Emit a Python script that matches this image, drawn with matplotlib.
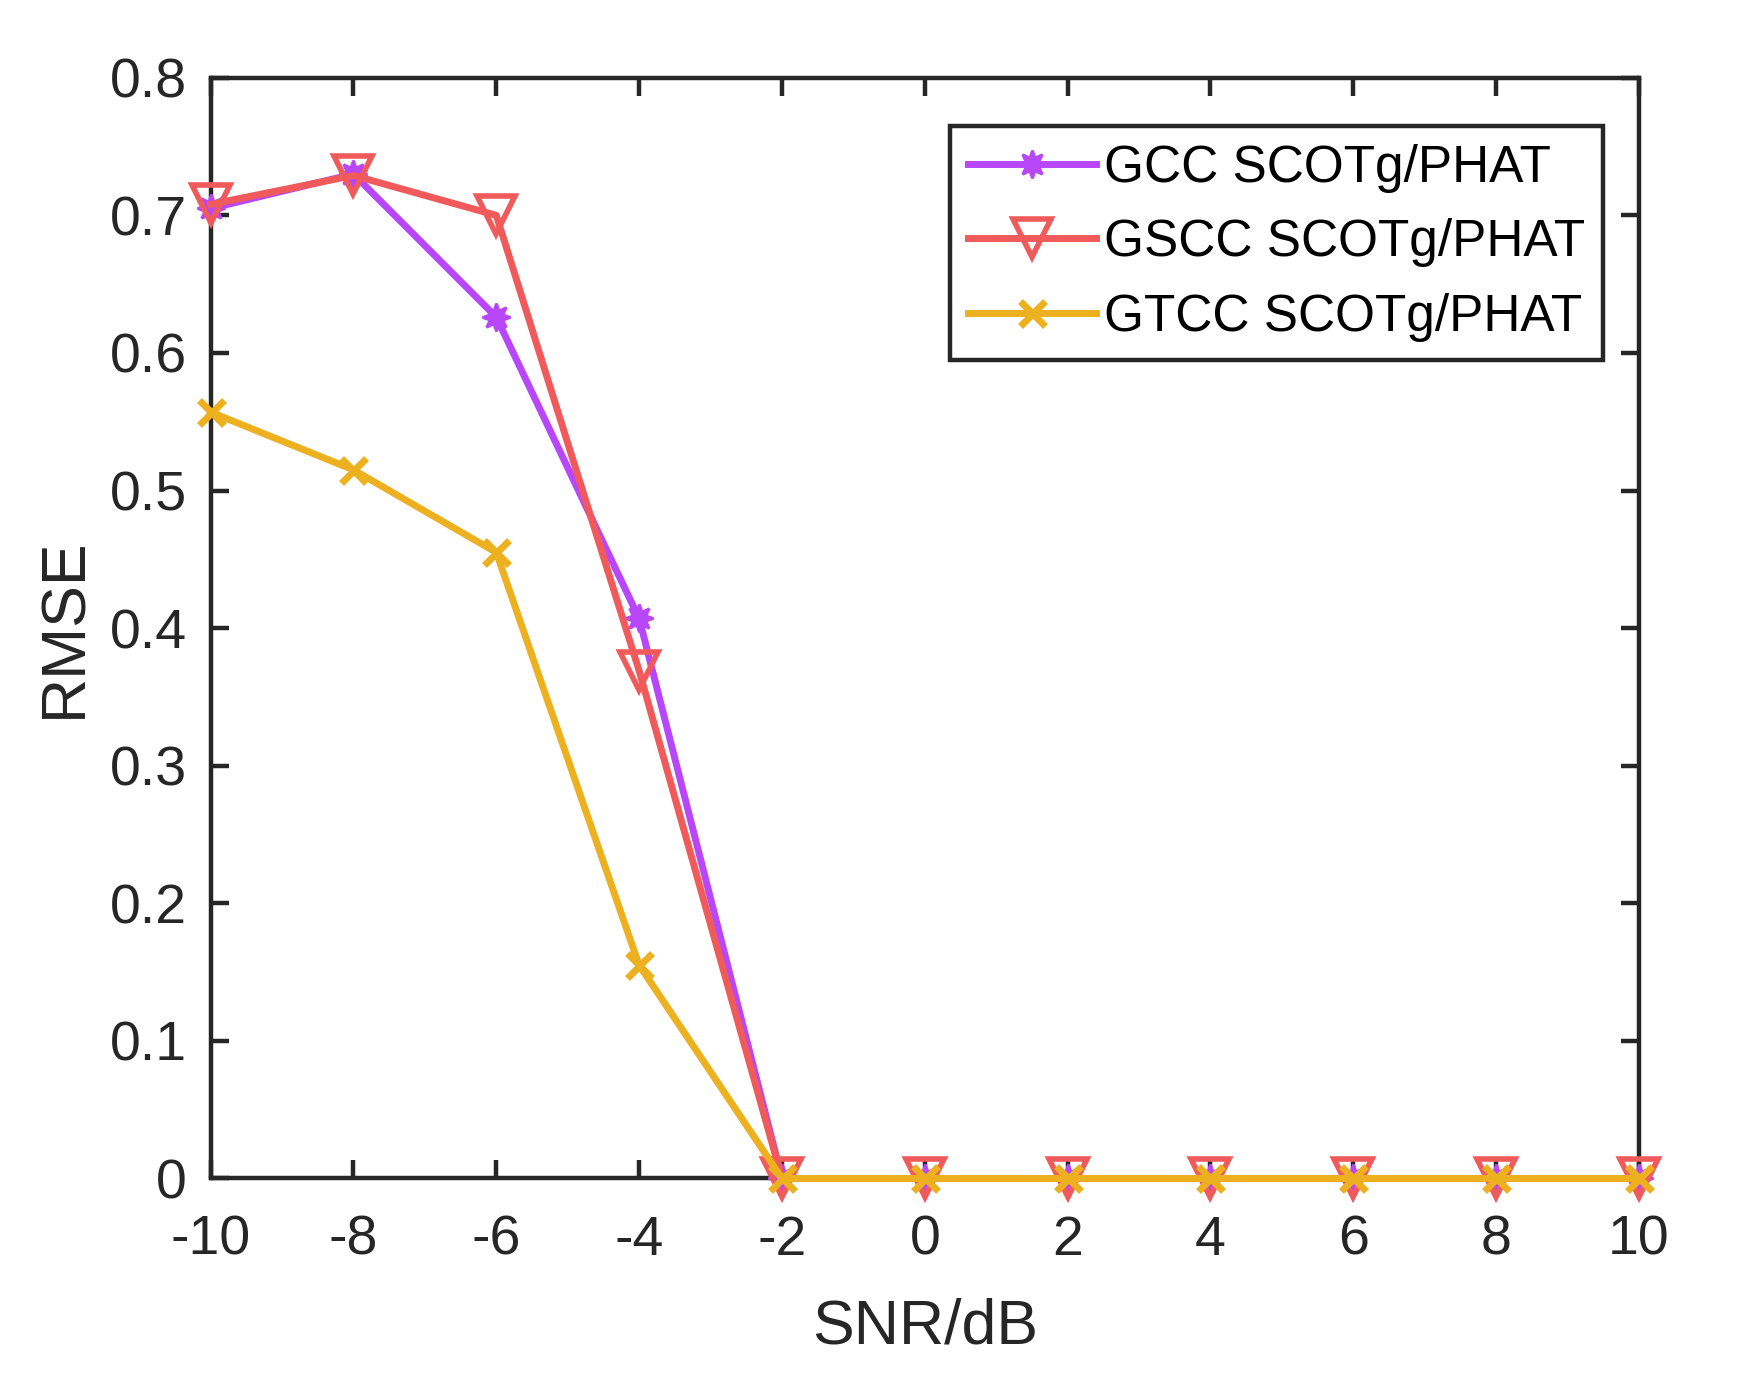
import matplotlib
matplotlib.use("Agg")
import matplotlib.pyplot as plt

snr = [-10, -8, -6, -4, -2, 0, 2, 4, 6, 8, 10]
gcc = [0.705, 0.730, 0.626, 0.407, 0, 0, 0, 0, 0, 0, 0]
gscc = [0.708, 0.729, 0.700, 0.369, 0, 0, 0, 0, 0, 0, 0]
gtcc = [0.557, 0.515, 0.455, 0.155, 0, 0, 0, 0, 0, 0, 0]
labels = ["GCC SCOTg/PHAT", "GSCC SCOTg/PHAT", "GTCC SCOTg/PHAT"]
xticks = [-10, -8, -6, -4, -2, 0, 2, 4, 6, 8, 10]
yticks = [0, 0.1, 0.2, 0.3, 0.4, 0.5, 0.6, 0.7, 0.8]
ytick_labels = ["0", "0.1", "0.2", "0.3", "0.4", "0.5", "0.6", "0.7", "0.8"]

plt.rcParams['font.family'] = ['Liberation Sans', 'DejaVu Sans']
dark = '#262626'

fig = plt.figure(figsize=(17.41, 13.74), dpi=100)
ax = fig.add_axes([0.121, 0.1423, 0.9414 - 0.121, 0.9434 - 0.1423])

c_gcc = '#B846FA'
c_gscc = '#F05A5A'
c_gtcc = '#EDB120'

ax.plot(snr, gcc, color=c_gcc, lw=5, marker=(8, 1, 0), ms=20, mew=2, mfc=c_gcc, mec=c_gcc, label=labels[0], zorder=3)
ax.plot(snr, gscc, color=c_gscc, lw=5, marker='v', ms=28, mew=4, mfc='none', mec=c_gscc, label=labels[1], zorder=4)
ax.plot(snr, gtcc, color=c_gtcc, lw=5, marker='x', ms=18, mew=5, mec=c_gtcc, label=labels[2], zorder=5)

ax.set_xlim(-10, 10)
ax.set_ylim(0, 0.8)
ax.set_xticks(xticks)
ax.set_xticklabels([str(v) for v in xticks])
ax.set_yticks(yticks)
ax.set_yticklabels(ytick_labels)
for s in ax.spines.values():
    s.set_linewidth(3.2)
    s.set_color(dark)
ax.tick_params(direction='in', length=13, width=3.2, colors=dark, labelsize=40,
               top=True, right=True)
ax.tick_params(axis='x', pad=26)
ax.tick_params(axis='y', pad=17)
ax.set_xlabel("SNR/dB", fontsize=45, color=dark, labelpad=22)
ax.set_ylabel("RMSE", fontsize=45, color=dark, labelpad=11)

leg = ax.legend(loc='upper right', fontsize=37, frameon=True, fancybox=False,
                edgecolor=dark, framealpha=1, handlelength=2.5,
                borderaxespad=0, labelspacing=0.5, borderpad=0.35, handletextpad=0.15,
                bbox_to_anchor=(0.975, 0.9566))
leg.get_frame().set_linewidth(3.2)
for line in ax.lines:
    line.set_clip_on(False)

fig.savefig("out.png", dpi=100)
